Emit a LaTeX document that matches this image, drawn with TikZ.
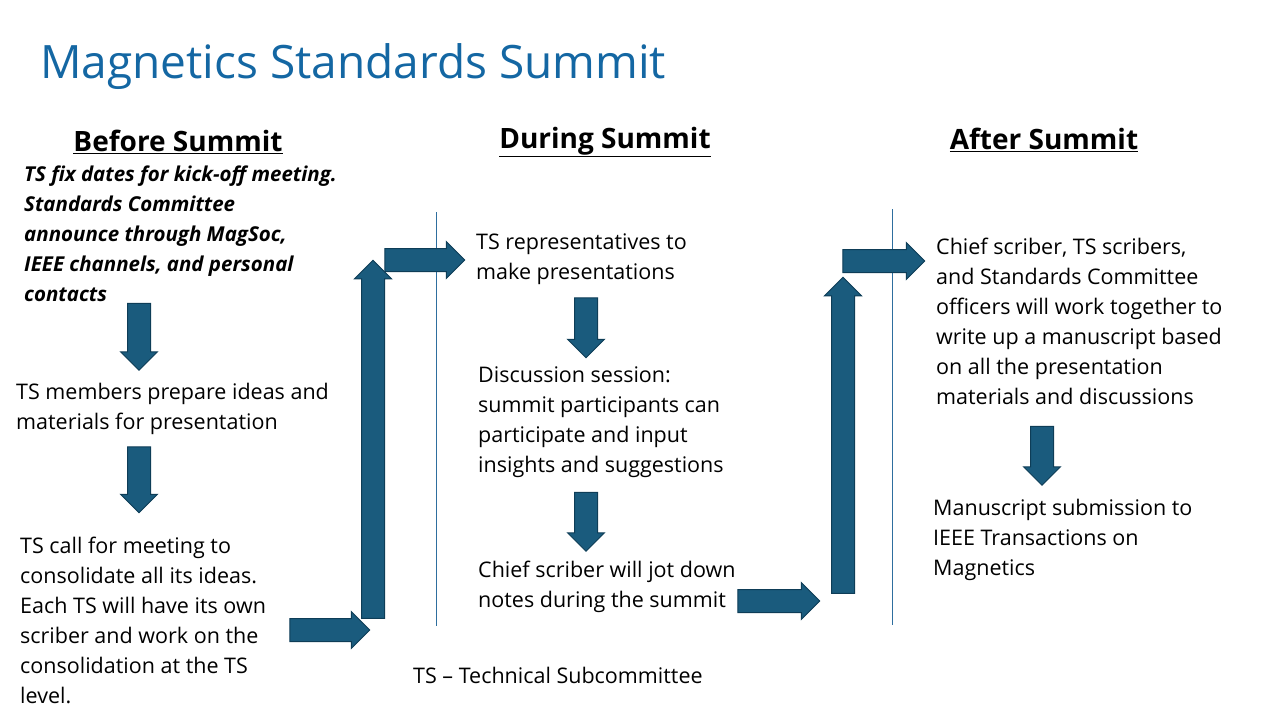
\documentclass[tikz,border=0pt]{standalone}
\usepackage{fontspec}
\setmainfont{Open Sans}
\usetikzlibrary{shapes.arrows}
\definecolor{titleblue}{HTML}{1467A3}
\definecolor{arrfill}{HTML}{1A5B7D}
\definecolor{arrdraw}{HTML}{0E3D57}
\definecolor{linecol}{HTML}{2E6E9E}
\begin{document}
\begin{tikzpicture}[x=1pt,y=-1pt,
  body/.style={anchor=north west,align=left,inner sep=0pt,font=\fontsize{21.5}{30}\selectfont},
  head/.style={inner sep=0pt,font=\fontsize{28}{30}\selectfont\bfseries},
  blockarrow/.style={single arrow,fill=arrfill,draw=arrdraw,line width=1pt,single arrow head extend=7pt,single arrow head indent=0pt,inner sep=0pt,text width=0pt,text height=11pt,text depth=11pt},
  divider/.style={draw=linecol,line width=0.8pt}]
\useasboundingbox (0,0) rectangle (1280,720);
\node[anchor=base west,inner sep=0pt,text=titleblue,font=\fontsize{46}{50}\selectfont] (title) at (40,78) {Magnetics Standards Summit};
\node[head] (h1) at (178,142) {\underline{Before Summit}};
\node[head] (h2) at (605,142) {\underline{During Summit}};
\node[head] (h3) at (1044,140) {\underline{After Summit}};
\node[body,font=\fontsize{20.5}{30}\selectfont\bfseries\itshape] (b1) at (24,166) {TS fix dates for kick-off meeting.\\Standards Committee\\announce through MagSoc,\\IEEE channels, and personal\\contacts};
\node[body] (b2) at (16,383) {TS members prepare ideas and\\materials for presentation};
\node[body] (b3) at (20,537) {TS call for meeting to\\consolidate all its ideas.\\Each TS will have its own\\scriber and work on the\\consolidation at the TS\\level.};
\node[body] (d1) at (476,234) {TS representatives to\\make presentations};
\node[body] (d2) at (478,367) {Discussion session:\\summit participants can\\participate and input\\insights and suggestions};
\node[body] (d3) at (478,561) {Chief scriber will jot down\\notes during the summit};
\node[body] (a1) at (936,238) {Chief scriber, TS scribers,\\and Standards Committee\\officers will work together to\\write up a manuscript based\\on all the presentation\\materials and discussions};
\node[body] (a2) at (933,499) {Manuscript submission to\\IEEE Transactions on\\Magnetics};
\node[anchor=base west,inner sep=0pt,font=\fontsize{21.5}{30}\selectfont] (note) at (413,683) {TS – Technical Subcommittee};
\coordinate (v1t) at (436,212); \coordinate (v1b) at (436,626);
\coordinate (v2t) at (892,209); \coordinate (v2b) at (892,625);
\draw[divider] (v1t) -- (v1b);
\draw[divider] (v2t) -- (v2b);
\node[blockarrow,rotate=-90,minimum height=67pt] (ar1) at (139,331) {};
\node[blockarrow,rotate=-90,minimum height=66pt] (ar2) at (139,474) {};
\node[blockarrow,minimum height=80pt] (ar3) at (324,630) {};
\node[blockarrow,rotate=90,minimum height=358pt] (ar4) at (373,445) {};
\node[blockarrow,minimum height=80pt] (ar5) at (419,260) {};
\node[blockarrow,rotate=-90,minimum height=60pt] (ar6) at (586,322) {};
\node[blockarrow,rotate=-90,minimum height=59pt] (ar7) at (586,516) {};
\node[blockarrow,minimum height=82pt] (ar8) at (773,601) {};
\node[blockarrow,rotate=90,minimum height=316pt] (ar9) at (843,441) {};
\node[blockarrow,minimum height=82pt] (ar10) at (878,261) {};
\node[blockarrow,rotate=-90,minimum height=59pt] (ar11) at (1042,450) {};
\end{tikzpicture}
\end{document}
